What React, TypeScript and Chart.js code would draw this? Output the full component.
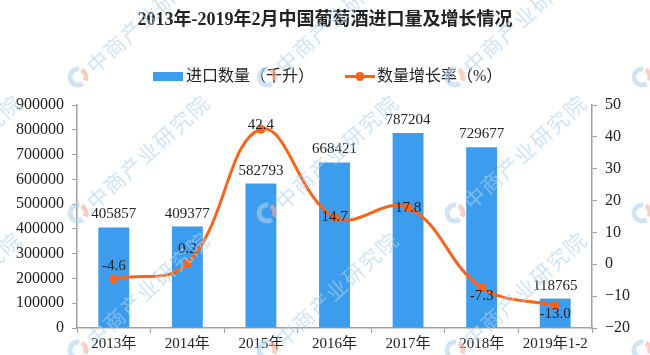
import React, { useEffect, useRef } from "react";
import { Chart, registerables } from "chart.js";

Chart.register(...registerables);

const categories = ["2013年", "2014年", "2015年", "2016年", "2017年", "2018年", "2019年1-2"];
const importVolume = [405857, 409377, 582793, 668421, 787204, 729677, 118765];
const growthRate = [-4.6, 0.2, 42.4, 14.7, 17.8, -7.3, -13.0];
const growthLabels = ["-4.6", "0.2", "42.4", "14.7", "17.8", "-7.3", "-13.0"];
// vertical label offset relative to each point (styling only)
const growthLabelShift = [-13, -15, -4, 0, 0, 9, 8];

const TITLE = "2013年-2019年2月中国葡萄酒进口量及增长情况";
const LEGEND_BAR = "进口数量（千升）";
const LEGEND_LINE = "数量增长率（%）";
const WATERMARK = "中商产业研究院";

const BAR_COLOR = "#3C9CEE";
const LINE_COLOR = "#FA6419";
const AXIS_COLOR = "#A0A0A0";
const TEXT_COLOR = "#222222";
const FONT = "'Liberation Serif', 'Noto Sans CJK SC', serif";

const wmCols = [-110, 78, 267, 455, 642];
const wmRows = [77, 213, 350];

function drawWatermarks(ctx: CanvasRenderingContext2D) {
  ctx.save();
  for (const cx of wmCols) {
    for (const cy of wmRows) {
      // logo
      ctx.lineWidth = 5;
      ctx.strokeStyle = "rgba(175,210,238,0.6)";
      ctx.beginPath();
      ctx.arc(cx, cy, 8, Math.PI * 0.3, Math.PI * 1.55);
      ctx.stroke();
      ctx.strokeStyle = "rgba(245,175,150,0.6)";
      ctx.beginPath();
      ctx.arc(cx, cy, 8, Math.PI * 1.65, Math.PI * 2.15);
      ctx.stroke();
      // text
      ctx.save();
      ctx.translate(cx + 12, cy - 8);
      ctx.rotate(-Math.PI * 0.235);
      ctx.font = "21px 'Noto Sans CJK SC'";
      ctx.fillStyle = "rgba(175,210,238,0.6)";
      ctx.textAlign = "left";
      ctx.textBaseline = "middle";
      let x = 0;
      for (const ch of WATERMARK) {
        ctx.fillText(ch, x, 0);
        x += 22.5;
      }
      ctx.restore();
    }
  }
  ctx.restore();
}

const decorPlugin = {
  id: "decor",
  beforeDraw(chart: any) {
    const ctx = chart.ctx;
    ctx.save();
    ctx.fillStyle = "#ffffff";
    ctx.fillRect(0, 0, chart.width, chart.height);
    ctx.restore();
  },
  afterDraw(chart: any) {
    const ctx = chart.ctx;
    ctx.save();
    // title
    ctx.fillStyle = TEXT_COLOR;
    ctx.font = "bold 18px " + FONT;
    ctx.textAlign = "center";
    ctx.textBaseline = "middle";
    ctx.fillText(TITLE, 325, 20);
    // legend
    ctx.font = "16px " + FONT;
    ctx.textAlign = "left";
    ctx.fillStyle = BAR_COLOR;
    ctx.fillRect(153, 72, 30, 9);
    ctx.fillStyle = TEXT_COLOR;
    ctx.fillText(LEGEND_BAR, 186, 77);
    ctx.strokeStyle = LINE_COLOR;
    ctx.lineWidth = 3;
    ctx.beginPath();
    ctx.moveTo(345, 76.5);
    ctx.lineTo(375, 76.5);
    ctx.stroke();
    ctx.fillStyle = LINE_COLOR;
    ctx.beginPath();
    ctx.arc(360, 76.5, 4.5, 0, Math.PI * 2);
    ctx.fill();
    ctx.fillStyle = TEXT_COLOR;
    ctx.fillText(LEGEND_LINE, 377, 77);
    ctx.restore();
    drawWatermarks(ctx);
  },
  afterDatasetsDraw(chart: any) {
    const ctx = chart.ctx;
    ctx.save();
    ctx.fillStyle = TEXT_COLOR;
    ctx.font = "15px " + FONT;
    ctx.textAlign = "center";
    ctx.textBaseline = "middle";
    const barMeta = chart.getDatasetMeta(0);
    barMeta.data.forEach((el: any, i: number) => {
      ctx.fillText(String(importVolume[i]), el.x, el.y - 13);
    });
    const lineMeta = chart.getDatasetMeta(1);
    lineMeta.data.forEach((el: any, i: number) => {
      ctx.fillText(growthLabels[i], el.x, el.y + growthLabelShift[i]);
    });
    ctx.restore();
  },
};

export default function App() {
  const ref = useRef<HTMLCanvasElement>(null);
  useEffect(() => {
    document.body.style.margin = "0";
    const chart = new Chart(ref.current as HTMLCanvasElement, {
      type: "bar",
      data: {
        labels: categories,
        datasets: [
          {
            type: "bar",
            label: LEGEND_BAR,
            data: importVolume,
            backgroundColor: BAR_COLOR,
            yAxisID: "y",
            order: 1,
            categoryPercentage: 0.84,
            barPercentage: 0.5,
          },
          {
            type: "line",
            label: LEGEND_LINE,
            data: growthRate,
            borderColor: LINE_COLOR,
            backgroundColor: LINE_COLOR,
            borderWidth: 3,
            pointRadius: 4.5,
            pointBackgroundColor: LINE_COLOR,
            pointBorderWidth: 0,
            tension: 0.4,
            yAxisID: "y1",
            order: 0,
          },
        ],
      },
      options: {
        animation: false,
        responsive: true,
        maintainAspectRatio: false,
        layout: { padding: { top: 105, left: 0, right: 0, bottom: 0 } },
        plugins: {
          legend: { display: false },
          title: { display: false },
          tooltip: { enabled: false },
        },
        scales: {
          x: {
            grid: {
              display: true,
              drawOnChartArea: false,
              drawTicks: true,
              tickLength: 5,
              color: AXIS_COLOR,
              offset: true,
            },
            border: { color: AXIS_COLOR, width: 1.5 },
            ticks: {
              color: TEXT_COLOR,
              font: { family: FONT, size: 15 },
              maxRotation: 0,
              autoSkip: false,
              padding: 2,
            },
            afterFit(s: any) {
              s.height = 27;
            },
          },
          y: {
            position: "left",
            min: 0,
            max: 900000,
            grid: {
              display: true,
              drawOnChartArea: false,
              tickLength: 5,
              color: AXIS_COLOR,
            },
            border: { color: AXIS_COLOR, width: 1.5 },
            ticks: {
              stepSize: 100000,
              color: TEXT_COLOR,
              font: { family: FONT, size: 16 },
              padding: 8,
              callback: (v: any) => String(v),
            },
            afterFit(s: any) {
              s.width = 77;
            },
          },
          y1: {
            position: "right",
            min: -20,
            max: 50,
            grid: {
              display: true,
              drawOnChartArea: false,
              tickLength: 5,
              color: AXIS_COLOR,
            },
            border: { color: AXIS_COLOR, width: 1.5 },
            ticks: {
              stepSize: 10,
              color: TEXT_COLOR,
              font: { family: FONT, size: 16 },
              padding: 8,
              callback: (v: any) => (Number(v) < 0 ? "−" + Math.abs(Number(v)) : String(v)),
            },
            afterFit(s: any) {
              s.width = 58;
            },
          },
        },
      },
      plugins: [decorPlugin],
    });
    return () => chart.destroy();
  }, []);
  return (
    <div style={{ position: "absolute", left: 0, top: 0, width: 650, height: 355 }}>
      <canvas ref={ref} />
    </div>
  );
}
